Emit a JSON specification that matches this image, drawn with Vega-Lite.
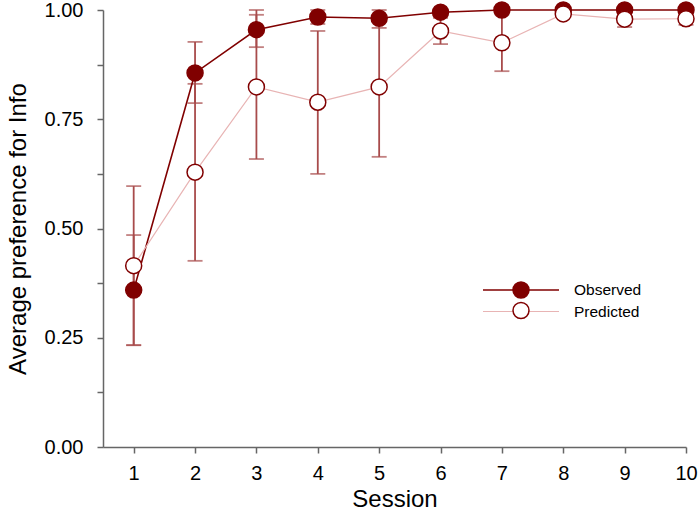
{
  "$schema": "https://vega.github.io/schema/vega-lite/v6.json",
  "width": 583,
  "height": 437,
  "autosize": {"type": "none"},
  "padding": {"left": 103, "top": 10, "right": 14, "bottom": 67},
  "background": "white",
  "config": {
    "view": {"stroke": null},
    "font": "Liberation Sans",
    "axis": {
      "grid": false,
      "domainColor": "#666666",
      "tickColor": "#666666",
      "domainWidth": 1.5,
      "tickWidth": 1.5,
      "tickSize": 6,
      "labelColor": "#000000",
      "titleColor": "#000000",
      "labelFont": "Liberation Sans",
      "titleFont": "Liberation Sans",
      "titleFontWeight": "normal",
      "labelFontSize": 20,
      "titleFontSize": 24
    },
    "legend": {"labelFont": "Liberation Sans", "padding": 0}
  },
  "data": {
    "values": [
      {"session": 1, "series": "Observed", "value": 0.359, "lower": 0.233, "upper": 0.485},
      {"session": 2, "series": "Observed", "value": 0.856, "lower": 0.787, "upper": 0.927},
      {"session": 3, "series": "Observed", "value": 0.955, "lower": 0.915, "upper": 1.0},
      {"session": 4, "series": "Observed", "value": 0.984, "lower": 0.968, "upper": 1.0},
      {"session": 5, "series": "Observed", "value": 0.981, "lower": 0.959, "upper": 1.0},
      {"session": 6, "series": "Observed", "value": 0.995, "lower": 0.99, "upper": 1.0},
      {"session": 7, "series": "Observed", "value": 1.0, "lower": 1.0, "upper": 1.0},
      {"session": 8, "series": "Observed", "value": 1.0, "lower": 1.0, "upper": 1.0},
      {"session": 9, "series": "Observed", "value": 1.0, "lower": 1.0, "upper": 1.0},
      {"session": 10, "series": "Observed", "value": 1.0, "lower": 1.0, "upper": 1.0},
      {"session": 1, "series": "Predicted", "value": 0.415, "lower": 0.233, "upper": 0.597},
      {"session": 2, "series": "Predicted", "value": 0.629, "lower": 0.426, "upper": 0.831},
      {"session": 3, "series": "Predicted", "value": 0.824, "lower": 0.659, "upper": 0.989},
      {"session": 4, "series": "Predicted", "value": 0.789, "lower": 0.625, "upper": 0.952},
      {"session": 5, "series": "Predicted", "value": 0.824, "lower": 0.664, "upper": 0.984},
      {"session": 6, "series": "Predicted", "value": 0.952, "lower": 0.922, "upper": 0.982},
      {"session": 7, "series": "Predicted", "value": 0.925, "lower": 0.86, "upper": 0.99},
      {"session": 8, "series": "Predicted", "value": 0.991, "lower": 0.99, "upper": 0.992},
      {"session": 9, "series": "Predicted", "value": 0.979, "lower": 0.961, "upper": 0.997},
      {"session": 10, "series": "Predicted", "value": 0.98, "lower": 0.966, "upper": 0.994}
    ]
  },
  "encoding": {
    "x": {
      "field": "session",
      "type": "quantitative",
      "scale": {"domain": [0.5, 10], "nice": false, "zero": false},
      "axis": {
        "values": [1, 2, 3, 4, 5, 6, 7, 8, 9, 10],
        "title": "Session",
        "labelPadding": 10,
        "titlePadding": 4,
        "labelFlush": false
      }
    }
  },
  "layer": [
    {
      "mark": {"type": "rule", "color": "#a84b4b", "strokeWidth": 1.8},
      "encoding": {
        "y": {
          "field": "lower",
          "type": "quantitative",
          "scale": {"domain": [0, 1], "nice": false},
          "axis": {
            "values": [0, 0.125, 0.25, 0.375, 0.5, 0.625, 0.75, 0.875, 1],
            "labelExpr": "(datum.value * 4) % 1 == 0 ? format(datum.value, '.2f') : ''",
            "title": "Average preference for Info",
            "labelPadding": 14,
            "titlePadding": 14,
            "labelFlush": false
          }
        },
        "y2": {"field": "upper"}
      }
    },
    {
      "mark": {"type": "tick", "orient": "horizontal", "color": "#a84b4b", "thickness": 1.8, "size": 15},
      "encoding": {"y": {"field": "lower", "type": "quantitative"}}
    },
    {
      "mark": {"type": "tick", "orient": "horizontal", "color": "#a84b4b", "thickness": 1.8, "size": 15},
      "encoding": {"y": {"field": "upper", "type": "quantitative"}}
    },
    {
      "mark": {"type": "line"},
      "encoding": {
        "y": {"field": "value", "type": "quantitative"},
        "stroke": {
          "field": "series",
          "type": "nominal",
          "scale": {"domain": ["Observed", "Predicted"], "range": ["#800000", "#e8b4b4"]},
          "legend": {
            "orient": "none",
            "legendX": 409,
            "legendY": 271,
            "title": null,
            "symbolType": "M-4.75,0H4.75M0,-1M0,1",
            "symbolSize": 256,
            "symbolStrokeWidth": 1.5,
            "labelFontSize": 15.5,
            "labelOffset": 44,
            "rowPadding": -1.5
          }
        },
        "strokeWidth": {
          "field": "series",
          "type": "nominal",
          "scale": {"domain": ["Observed", "Predicted"], "range": [1.6, 1.2]},
          "legend": null
        }
      }
    },
    {
      "mark": {"type": "point", "filled": true, "size": 256, "stroke": "#800000", "strokeWidth": 1.5, "opacity": 1},
      "encoding": {
        "y": {"field": "value", "type": "quantitative"},
        "fill": {
          "field": "series",
          "type": "nominal",
          "scale": {"range": ["#800000", "#ffffff"]},
          "legend": {
            "orient": "none",
            "legendX": 409,
            "legendY": 271,
            "title": null,
            "symbolType": "circle",
            "symbolSize": 256,
            "symbolStrokeColor": "#800000",
            "symbolStrokeWidth": 1.5,
            "symbolOpacity": 1,
            "labelFontSize": 15.5,
            "labelOffset": 44,
            "labelOpacity": 0,
            "rowPadding": -1.5
          }
        }
      }
    }
  ]
}
